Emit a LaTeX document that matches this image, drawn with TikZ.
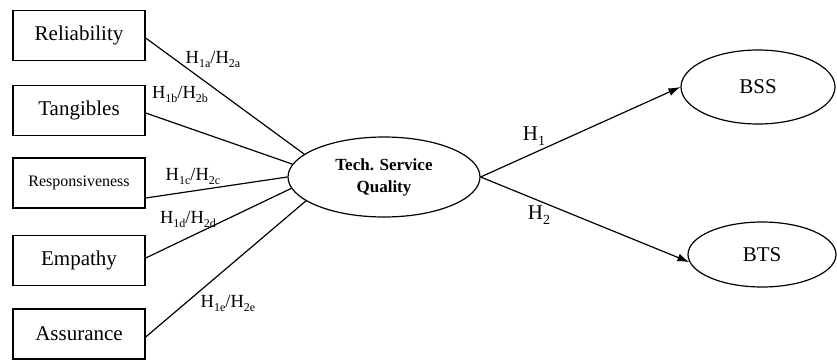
\documentclass[tikz,border=0pt]{standalone}
\usepackage{fontspec}
\setmainfont{Liberation Serif}
\usetikzlibrary{shapes.geometric,arrows.meta}
\newcommand\hsb[1]{\raisebox{-0.22em}{\fontsize{12}{12}\selectfont #1}}
\newcommand\hsbig[1]{\raisebox{-0.22em}{\fontsize{14}{14}\selectfont #1}}
\begin{document}
\begin{tikzpicture}[x=1pt,y=-1pt,
  factor/.style={draw,line width=1.4pt,minimum width=132pt,minimum height=50pt,inner sep=0pt,font=\fontsize{21}{24}\selectfont},
  oval/.style={draw,ellipse,line width=1.2pt,inner sep=0pt},
  link/.style={line width=1.2pt},
  hlab/.style={font=\fontsize{18.5}{20}\selectfont,inner sep=0pt},
  arr/.style={line width=1.2pt,-{Latex[length=12pt,width=8pt]}}]
\useasboundingbox (0,0) rectangle (837,359);
\node[factor] (rel) at (79,35.5) {Reliability};
\node[factor] (tan) at (79,110.5) {Tangibles};
\node[factor,font=\fontsize{16}{18}\selectfont] (res) at (79,183) {Responsiveness};
\node[factor] (emp) at (79,260.5) {Empathy};
\node[factor] (ass) at (79,334) {Assurance};
\node[oval,minimum width=192pt,minimum height=80pt,align=center,font=\fontsize{17}{22}\selectfont\bfseries] (tsq) at (384,177) {Tech. Service\\Quality};
\node[oval,minimum width=154pt,minimum height=74pt,font=\fontsize{21}{24}\selectfont] (bss) at (758,87) {BSS};
\node[oval,minimum width=148pt,minimum height=65pt,font=\fontsize{21}{24}\selectfont] (bts) at (762,254.5) {BTS};
\draw[link] ([yshift=-2.5pt]rel.east) -- (tsq.164.8);
\draw[link] ([yshift=-2.5pt]tan.east) -- (tsq.172.5);
\draw[link] ([yshift=-15pt]res.east) -- (tsq.180);
\draw[link] ([yshift=2.5pt]emp.east) -- (tsq.187.5);
\draw[link] ([yshift=-3pt]ass.east) -- (tsq.197);
\draw[arr] (tsq.east) -- (bss.west);
\draw[arr] (tsq.east) -- (bts.186);
\node[hlab] (la) at (213,59) {H\hsb{1a}/H\hsb{2a}};
\node[hlab] (lb) at (180,94) {H\hsb{1b}/H\hsb{2b}};
\node[hlab] (lc) at (193,176) {H\hsb{1c}/H\hsb{2c}};
\node[hlab] (ld) at (188,219) {H\hsb{1d}/H\hsb{2d}};
\node[hlab] (le) at (228,303) {H\hsb{1e}/H\hsb{2e}};
\node[hlab,font=\fontsize{21}{24}\selectfont] (l1) at (534,136) {H\hsbig{1}};
\node[hlab,font=\fontsize{21}{24}\selectfont] (l2) at (539,215) {H\hsbig{2}};
\end{tikzpicture}
\end{document}
